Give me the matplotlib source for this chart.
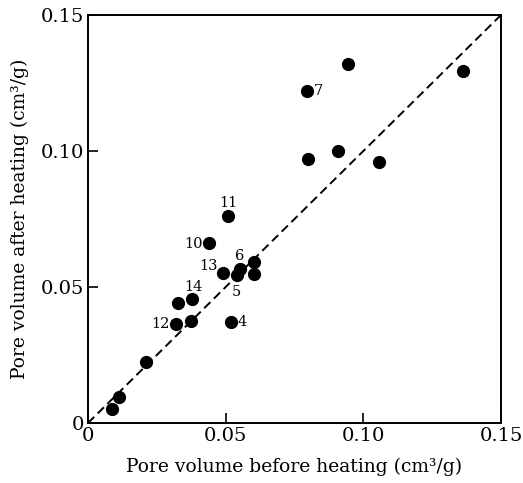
import matplotlib
matplotlib.use("Agg")
import matplotlib.pyplot as plt
from matplotlib.ticker import FixedLocator, FixedFormatter

# Data (cm3/g)
before = [0.0943, 0.1363, 0.0794, 0.0800, 0.0909, 0.1057, 0.0507, 0.0440,
          0.0489, 0.0540, 0.0552, 0.0603, 0.0603, 0.0379, 0.0327, 0.0320,
          0.0373, 0.0519, 0.0210, 0.0112, 0.0088]
after = [0.1319, 0.1295, 0.1222, 0.0969, 0.1001, 0.0958, 0.0761, 0.0661,
         0.0550, 0.0544, 0.0565, 0.0591, 0.0548, 0.0456, 0.0442, 0.0363,
         0.0376, 0.0370, 0.0223, 0.0094, 0.0050]
labels = ["", "", "7", "", "", "", "11", "10",
          "13", "5", "6", "", "", "14", "", "12",
          "", "4", "", "", ""]
# label offsets in pixels (dx, dy)
label_offsets = {"7": (11.6, 0), "11": (0.6, 13.3), "10": (-15.7, -1),
                 "13": (-14.4, 7.3), "5": (0, -16.7), "6": (0, 13.3),
                 "14": (1, 12.3), "12": (-16, 0), "4": (11.7, 0)}
ticks = [0, 0.05, 0.10, 0.15]
tick_labels = ["0", "0.05", "0.10", "0.15"]

plt.rcParams['font.family'] = ['DejaVu Serif']

fig = plt.figure(figsize=(5.23, 4.83), dpi=100)
ax = fig.add_axes([88/523, (483-423)/483, (501-88)/523, (423-15)/483])

ax.plot([0, 0.15], [0, 0.15], color='black', linestyle=(0, (4.5, 2.5)), linewidth=1.4, zorder=1)
ax.plot(before, after, 'o', color='black', markersize=8.5, zorder=2)

px = 0.72
for x, y, lab in zip(before, after, labels):
    if lab:
        dx, dy = label_offsets[lab]
        ax.annotate(lab, (x, y), xytext=(dx*px, dy*px), textcoords='offset points',
                    ha='center', va='center', fontsize=10.5)

ax.set_xlim(0, 0.15)
ax.set_ylim(0, 0.15)
ax.xaxis.set_major_locator(FixedLocator(ticks))
ax.xaxis.set_major_formatter(FixedFormatter(tick_labels))
ax.yaxis.set_major_locator(FixedLocator(ticks))
ax.yaxis.set_major_formatter(FixedFormatter(tick_labels))
ax.tick_params(direction='in', length=7, width=1.2, labelsize=14, pad=3, colors='black')
for s in ax.spines.values():
    s.set_linewidth(1.4)

ax.set_xlabel("Pore volume before heating (cm³/g)", fontsize=13.5, labelpad=9)
ax.set_ylabel("Pore volume after heating (cm³/g)", fontsize=13.5, labelpad=8)

fig.savefig("out.png", dpi=100)
